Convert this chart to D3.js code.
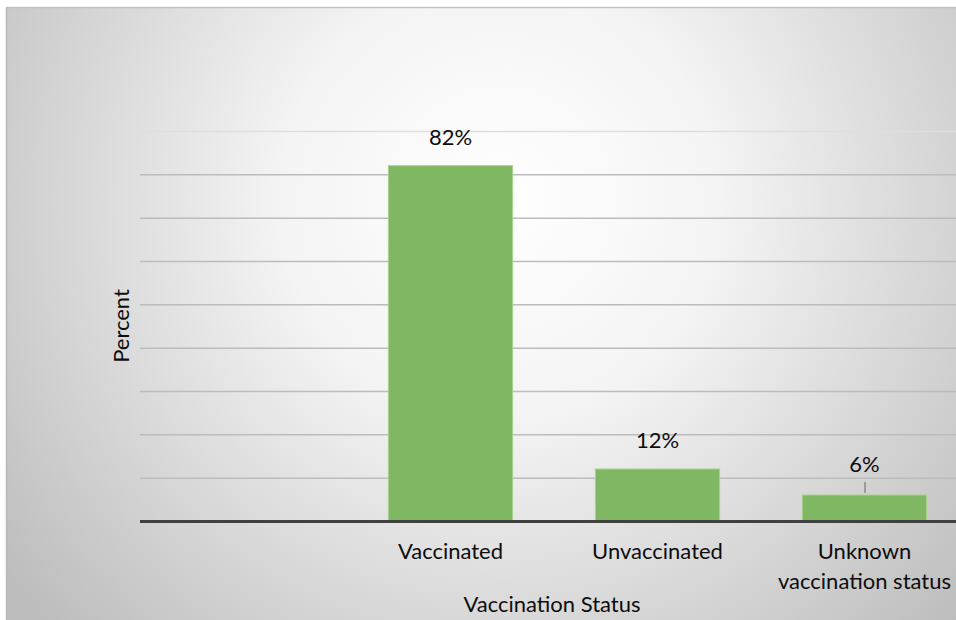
<!DOCTYPE html>
<html>
<head>
<meta charset="utf-8">
<script src="https://cdn.jsdelivr.net/npm/d3@7"></script>
<style>
  html, body { margin: 0; padding: 0; background: #fff; }
  svg { display: block; }
  text { font-family: Lato, "Open Sans", sans-serif; fill: #0d0d0d; }
</style>
</head>
<body>
<svg id="chart" width="956" height="620"></svg>
<script>
// Share of cases by vaccination status
const categories = ["", "Vaccinated", "Unvaccinated", "Unknown vaccination status"];
const values = [null, 82, 12, 6];
const valueLabels = ["", "82%", "12%", "6%"];
const yTicks = [10, 20, 30, 40, 50, 60, 70, 80, 90];

const W = 956, H = 620;
const FS = 22;
const svg = d3.select("#chart");

// Panel background with a soft radial sheen
const defs = svg.append("defs");
const grad = defs.append("radialGradient")
  .attr("id", "bg").attr("gradientUnits", "userSpaceOnUse")
  .attr("cx", 500).attr("cy", 200).attr("r", 620);
grad.append("stop").attr("offset", "0").attr("stop-color", "#ffffff");
grad.append("stop").attr("offset", "0.35").attr("stop-color", "#f4f4f4");
grad.append("stop").attr("offset", "1").attr("stop-color", "#bdbdbd");

svg.append("rect").attr("x", 6).attr("y", 7).attr("width", W - 6).attr("height", H - 7)
  .attr("fill", "url(#bg)");
svg.append("line").attr("x1", 6.5).attr("x2", 6.5).attr("y1", 7).attr("y2", H)
  .attr("stroke", "#b8b8b8").attr("stroke-width", 1.5);
svg.append("line").attr("x1", 6).attr("x2", W).attr("y1", 7.5).attr("y2", 7.5)
  .attr("stroke", "#c4c4c4").attr("stroke-width", 1.5);

const plot = { left: 140, right: 968, top: 131, bottom: 521 };

const x = d3.scaleBand().domain(categories)
  .range([plot.left, plot.right]).paddingInner(0.4).paddingOuter(0.2);
const y = d3.scaleLinear().domain([0, 90]).range([plot.bottom, plot.top]);

// Horizontal gridlines
svg.append("g").selectAll("line").data(yTicks).join("line")
  .attr("x1", plot.left).attr("x2", plot.right)
  .attr("y1", d => y(d) + 0.5).attr("y2", d => y(d) + 0.5)
  .attr("stroke", d => d === 90 ? "#dedede" : "#bcbcbc")
  .attr("stroke-width", 1.5);

const data = categories.map((c, i) => ({ c, v: values[i], label: valueLabels[i] }))
  .filter(d => d.v != null);

// Bars
svg.append("g").selectAll("rect").data(data).join("rect")
  .attr("x", d => x(d.c)).attr("width", x.bandwidth())
  .attr("y", d => y(d.v)).attr("height", d => y(0) - y(d.v))
  .attr("fill", "#7fb762").attr("stroke", "#a8d18c").attr("stroke-width", 1);

// Baseline
svg.append("line").attr("x1", plot.left).attr("x2", plot.right)
  .attr("y1", y(0) + 0.5).attr("y2", y(0) + 0.5)
  .attr("stroke", "#404040").attr("stroke-width", 3);

// Value labels; a short leader joins the label that sits clear of the gridline
svg.append("g").selectAll("text").data(data).join("text")
  .attr("x", d => x(d.c) + x.bandwidth() / 2)
  .attr("y", d => d.v < 10 ? y(d.v) - 23 : y(d.v) - 21)
  .attr("text-anchor", "middle").attr("font-size", FS)
  .text(d => d.label);
svg.append("g").selectAll("line").data(data.filter(d => d.v < 10)).join("line")
  .attr("x1", d => x(d.c) + x.bandwidth() / 2 + 0.5)
  .attr("x2", d => x(d.c) + x.bandwidth() / 2 + 0.5)
  .attr("y1", d => y(d.v) - 13).attr("y2", d => y(d.v) - 2)
  .attr("stroke", "#8a8a8a").attr("stroke-width", 1.5);

// Category labels
const catG = svg.append("g");
data.forEach(d => {
  const cx = x(d.c) + x.bandwidth() / 2;
  const lines = d.c === "Unknown vaccination status" ? ["Unknown", "vaccination status"] : [d.c];
  const t = catG.append("text").attr("x", cx).attr("y", 559)
    .attr("text-anchor", "middle").attr("font-size", FS);
  lines.forEach((ln, i) => t.append("tspan").attr("x", cx).attr("dy", i === 0 ? 0 : 30).text(ln));
});

// Axis titles
svg.append("text").attr("x", 552).attr("y", 612).attr("text-anchor", "middle")
  .attr("font-size", FS).text("Vaccination Status");
svg.append("text").attr("transform", "translate(129,326) rotate(-90)")
  .attr("text-anchor", "middle").attr("font-size", FS).text("Percent");
</script>
</body>
</html>
